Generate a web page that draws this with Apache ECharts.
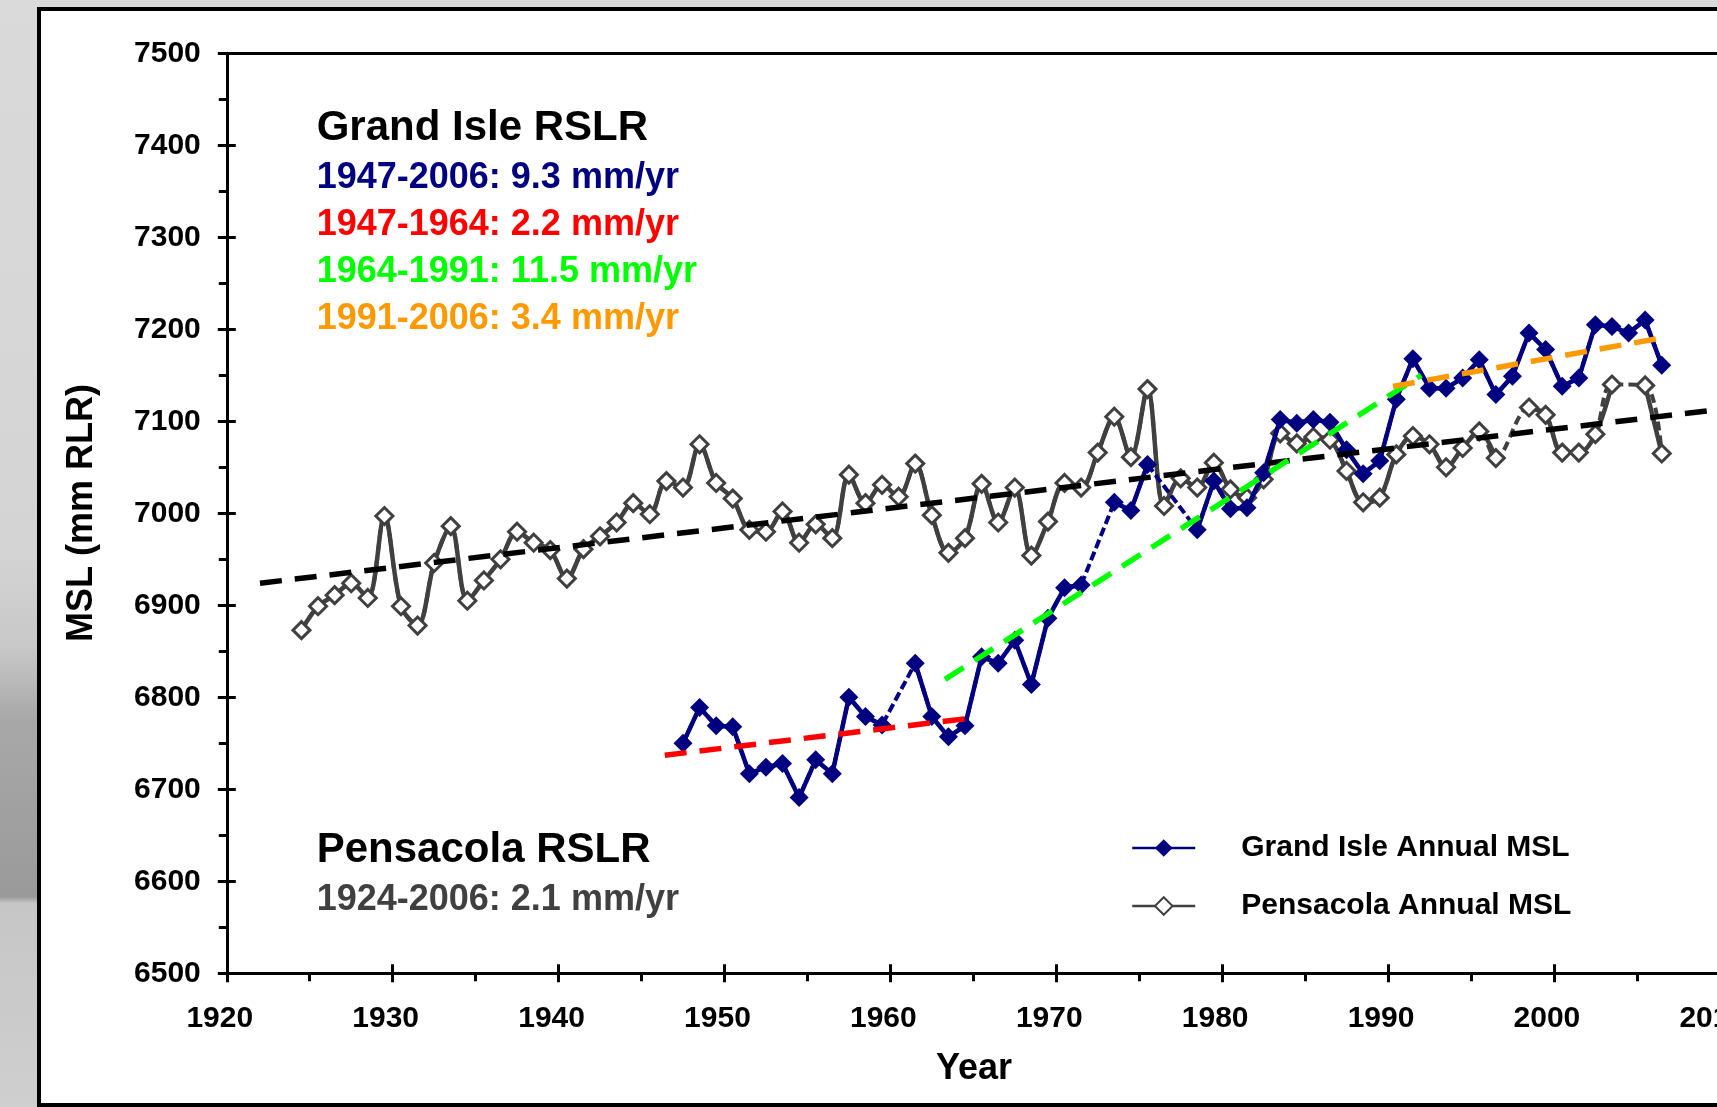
<!DOCTYPE html>
<html><head><meta charset="utf-8">
<script src="https://cdn.jsdelivr.net/npm/echarts@6/dist/echarts.min.js"></script>
<style>
html,body{margin:0;padding:0;width:1717px;height:1107px;overflow:hidden;
background:linear-gradient(to bottom,#dadada 0%,#d4d4d4 50%,#c8c8c8 58.5%,#a8a8a8 65%,#9a9a9a 81%,#c6c6c6 81.6%,#cfcfcf 100%);}
#frame{position:absolute;left:37px;top:7px;width:1760px;height:1100px;box-sizing:border-box;border:4px solid #000;background:#fff;}
#chart{position:absolute;left:0;top:0;width:1717px;height:1107px;}
</style></head><body>
<div id="frame"></div><div id="chart"></div>
<script>
const FONT = '"Liberation Sans", Arial, sans-serif';

const pensYears = [1924,1925,1926,1927,1928,1929,1930,1931,1932,1933,1934,1935,1936,1937,1938,1939,
  1940,1941,1942,1943,1944,1945,1946,1947,1948,1949,1950,1951,1952,1953,1954,1955,1956,1957,1958,1959,
  1960,1961,1962,1963,1964,1965,1966,1967,1968,1969,1970,1971,1972,1973,1974,1975,1976,1977,1978,1979,
  1980,1981,1982,1983,1984,1985,1986,1987,1988,1989,1990,1991,1992,1993,1994,1995,1996,1997,1998,1999,
  2000,2001,2002,2003,2004,2005,2006];
const pensMSL = [6873,6899,6911,6924,6908,6997,6899,6878,6946,6986,6905,6927,6950,6980,6968,6960,
  6929,6961,6975,6990,7011,6999,7035,7028,7075,7033,7016,6982,6980,7002,6968,6988,6973,7042,7011,7031,
  7018,7054,6998,6957,6973,7032,6990,7028,6954,6991,7033,7028,7066,7105,7061,7135,7008,7038,7028,7055,
  7026,7017,7037,7087,7076,7083,7080,7046,7012,7017,7064,7084,7075,7050,7071,7089,7060,null,7115,7107,
  7066,7066,7086,7140,null,7139,7065];

const giYears = [1947,1948,1949,1950,1951,1952,1953,1954,1955,1956,1957,1958,1959,
  1960,1961,1962,1963,1964,1965,1966,1967,1968,1969,1970,1971,1972,1973,1974,1975,1976,1977,1978,1979,
  1980,1981,1982,1983,1984,1985,1986,1987,1988,1989,1990,1991,1992,1993,1994,1995,1996,1997,1998,1999,
  2000,2001,2002,2003,2004,2005,2006];
const giMSL = [6750,6789,6769,6768,6717,6724,6728,6691,6732,6717,6800,6779,6770,
  null,6837,6779,6757,6769,6844,6837,6862,6814,6886,6919,6922,null,7012,7003,7053,null,null,6982,7035,
  7005,7006,7044,7102,7098,7102,7099,7069,7043,7057,7124,7168,7136,7136,7147,7167,7129,7149,7196,7178,
  7138,7147,7205,7203,7196,7210,7161];

// trend line end points [year, mm]
const trendPensacola = [[1922.0, 6924], [2010.0, 7113]];
const trendGI_1947_1964 = [[1946.4, 6737], [1964.9, 6777.5]];
const trendGI_1964_1991 = [[1963.3, 6819.5], [1992.0, 7150]];
const trendGI_1991_2006 = [[1990.3, 7138], [2006.6, 7191]];

const xRange = {min: 1920, max: 2010, interval: 10};
const yRange = {min: 6500, max: 7500, interval: 100};

const MID_YEAR = 0.5; // annual means plotted at mid-year

function withGaps(years, vals) { return years.map((y, i) => [y + MID_YEAR, vals[i] == null ? '-' : vals[i]]); }
function noGaps(years, vals) { return years.map((y, i) => [y + MID_YEAR, vals[i]]).filter(p => p[1] != null); }

const PEN = '#404040', NAVY = '#000080';
const tickStyle = {color: '#000', width: 3};
const plain = v => String(v);

const chart = echarts.init(document.getElementById('chart'), null, {renderer: 'canvas'});

const trend = (name, data, color) => ({
  name, type: 'line', data, symbol: 'none', silent: true, z: 6,
  lineStyle: {color, width: 5.5, type: [22, 13]}
});

chart.setOption({
  animation: false,
  backgroundColor: 'transparent',
  grid: {left: 226.8, top: 53.3, width: 1493, height: 920, containLabel: false, outerBoundsMode: 'none'},
  xAxis: [
    {type: 'value', min: xRange.min, max: xRange.max, interval: xRange.interval, position: 'bottom',
     axisLine: {show: true, onZero: false, lineStyle: tickStyle},
     axisTick: {show: true, inside: false, length: 9, lineStyle: tickStyle},
     minorTick: {show: true, splitNumber: 2, length: 8, lineStyle: tickStyle},
     axisLabel: {margin: 30, color: '#000', fontFamily: FONT, fontWeight: 'bold', fontSize: 30, formatter: plain,
                 padding: [0, 14, 0, 0], showMaxLabel: true, showMinLabel: true},
     splitLine: {show: false}, minorSplitLine: {show: false}},
    {type: 'value', min: xRange.min, max: xRange.max, interval: xRange.interval, position: 'bottom',
     axisLine: {show: false}, axisTick: {show: true, inside: true, length: 9, lineStyle: tickStyle},
     axisLabel: {show: false}, splitLine: {show: false}},
    {type: 'value', min: xRange.min, max: xRange.max, interval: xRange.interval, position: 'top',
     axisLine: {show: true, onZero: false, lineStyle: tickStyle}, axisTick: {show: false},
     axisLabel: {show: false}, splitLine: {show: false}}
  ],
  yAxis: [
    {type: 'value', min: yRange.min, max: yRange.max, interval: yRange.interval, position: 'left',
     axisLine: {show: true, onZero: false, lineStyle: tickStyle},
     axisTick: {show: true, inside: false, length: 9, lineStyle: tickStyle},
     minorTick: {show: true, splitNumber: 2, length: 8, lineStyle: tickStyle},
     axisLabel: {margin: 26, color: '#000', fontFamily: FONT, fontWeight: 'bold', fontSize: 30, formatter: plain, padding: [0, 0, 5, 0]},
     splitLine: {show: false}, minorSplitLine: {show: false}},
    {type: 'value', min: yRange.min, max: yRange.max, interval: yRange.interval, position: 'left',
     axisLine: {show: false}, axisTick: {show: true, inside: true, length: 9, lineStyle: tickStyle},
     axisLabel: {show: false}, splitLine: {show: false}}
  ],
  legend: {
    data: ['Grand Isle Annual MSL', 'Pensacola Annual MSL'],
    orient: 'vertical', left: 1131, top: 833, padding: 0,
    itemWidth: 63, itemHeight: 22, itemGap: 28, selectedMode: false,
    lineStyle: {width: 2.5},
    textStyle: {fontFamily: FONT, fontWeight: 'bold', fontSize: 30, color: '#000', padding: [0, 0, 0, 41]}
  },
  graphic: [
    {type: 'text', x: 316.7, y: 128, style: {text: 'Grand Isle RSLR', fill: '#000', fontFamily: FONT, fontWeight: 'bold', fontSize: 42, align: 'left', verticalAlign: 'middle'}},
    {type: 'text', x: 316.7, y: 178, style: {text: '1947-2006: 9.3 mm/yr', fill: NAVY, fontFamily: FONT, fontWeight: 'bold', fontSize: 36, align: 'left', verticalAlign: 'middle'}},
    {type: 'text', x: 316.7, y: 225.5, style: {text: '1947-1964: 2.2 mm/yr', fill: '#ff0000', fontFamily: FONT, fontWeight: 'bold', fontSize: 36, align: 'left', verticalAlign: 'middle'}},
    {type: 'text', x: 316.7, y: 272.3, style: {text: '1964-1991: 11.5 mm/yr', fill: '#00ff00', fontFamily: FONT, fontWeight: 'bold', fontSize: 36, align: 'left', verticalAlign: 'middle'}},
    {type: 'text', x: 316.7, y: 319, style: {text: '1991-2006: 3.4 mm/yr', fill: '#ff9900', fontFamily: FONT, fontWeight: 'bold', fontSize: 36, align: 'left', verticalAlign: 'middle'}},
    {type: 'text', x: 316.7, y: 850.4, style: {text: 'Pensacola RSLR', fill: '#000', fontFamily: FONT, fontWeight: 'bold', fontSize: 42, align: 'left', verticalAlign: 'middle'}},
    {type: 'text', x: 316.7, y: 900, style: {text: '1924-2006: 2.1 mm/yr', fill: PEN, fontFamily: FONT, fontWeight: 'bold', fontSize: 36, align: 'left', verticalAlign: 'middle'}},
    {type: 'text', x: 974, y: 1069, style: {text: 'Year', fill: '#000', fontFamily: FONT, fontWeight: 'bold', fontSize: 36, align: 'center', verticalAlign: 'middle'}},
    {type: 'text', x: 82, y: 513, rotation: Math.PI / 2, style: {text: 'MSL (mm RLR)', fill: '#000', fontFamily: FONT, fontWeight: 'bold', fontSize: 36, align: 'center', verticalAlign: 'middle'}}
  ],
  series: [
    {name: 'pensGap', type: 'line', data: noGaps(pensYears, pensMSL), smooth: 0.33, symbol: 'none', silent: true, z: 1,
     lineStyle: {color: PEN, width: 4, type: [9, 5]}},
    {name: 'Pensacola Annual MSL', type: 'line', data: withGaps(pensYears, pensMSL), smooth: 0.33, connectNulls: false, z: 2,
     symbol: 'diamond', symbolSize: 17,
     itemStyle: {color: '#ffffff', borderColor: PEN, borderWidth: 3},
     lineStyle: {color: PEN, width: 4.5}},
    {name: 'giGap', type: 'line', data: noGaps(giYears, giMSL), symbol: 'none', silent: true, z: 3,
     lineStyle: {color: NAVY, width: 4, type: [9, 4]}},
    {name: 'Grand Isle Annual MSL', type: 'line', data: withGaps(giYears, giMSL), connectNulls: false, z: 4,
     symbol: 'diamond', symbolSize: 19,
     itemStyle: {color: NAVY},
     lineStyle: {color: NAVY, width: 4.5}},
    trend('Pensacola trend', trendPensacola, '#000000'),
    trend('GI 1947-1964', trendGI_1947_1964, '#ff0000'),
    trend('GI 1964-1991', trendGI_1964_1991, '#00ff00'),
    trend('GI 1991-2006', trendGI_1991_2006, '#ff9900')
  ]
});
</script>
</body></html>
